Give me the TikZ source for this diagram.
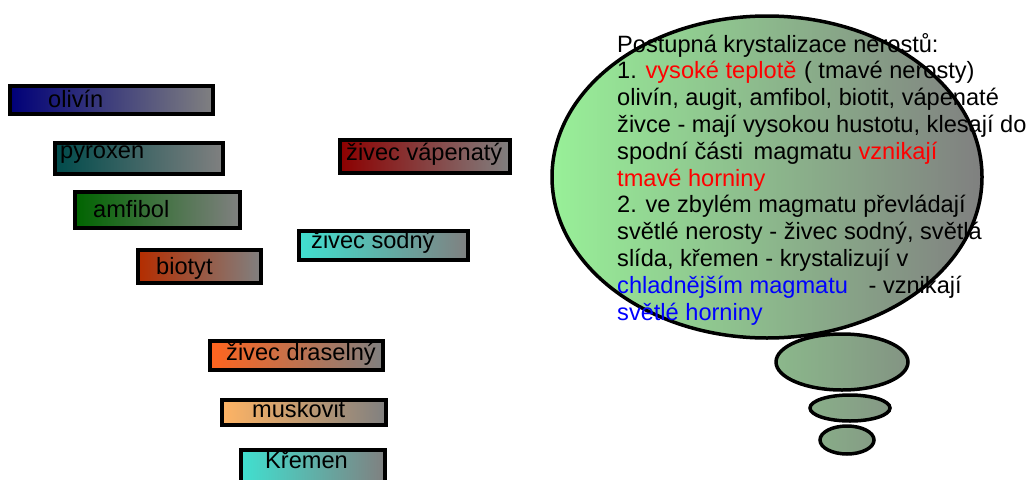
\documentclass[tikz,border=0pt]{standalone}
\usepackage{fontspec}
\setmainfont{Liberation Sans}
\begin{document}
\begin{tikzpicture}[x=1pt,y=-1pt,
  mbox/.style={draw=black, line width=4pt, right color={rgb,255:red,128;green,128;blue,128}},
  mtext/.style={anchor=base west, inner sep=0pt, font=\fontsize{23.6}{27}\selectfont},
  bub/.style={draw=black, line width=3.5pt}]
\useasboundingbox (0,0) rectangle (1032,479);
\definecolor{cnavy}{RGB}{0,0,120}
\definecolor{cteal}{RGB}{0,75,75}
\definecolor{cgreen}{RGB}{0,100,0}
\definecolor{crust}{RGB}{180,45,0}
\definecolor{corange}{RGB}{255,100,30}
\definecolor{clorange}{RGB}{255,180,100}
\definecolor{cturq}{RGB}{64,224,208}
\definecolor{cdred}{RGB}{140,0,0}
\definecolor{cgrey}{RGB}{128,128,128}
\definecolor{cbubl}{RGB}{152,240,152}
\definecolor{blueT}{RGB}{0,0,255}
\definecolor{redT}{RGB}{255,0,0}

% mineral boxes
\path[mbox, left color=cnavy] (10,86) rectangle (213,114);
\node[mtext] (olivin) at (48,107) {olivín};
\path[mbox, left color=cteal] (55,143) rectangle (223,174);
\node[mtext] (pyroxen) at (60,158) {pyroxen};
\path[mbox, left color=cgreen] (75,192) rectangle (240,228);
\node[mtext] (amfibol) at (93,217) {amfibol};
\path[mbox, left color=crust] (138,250) rectangle (261,283);
\node[mtext] (biotyt) at (156,274) {biotyt};
\path[mbox, left color=cdred] (340,140) rectangle (510,173);
\node[mtext] (vapenaty) at (346,160) {živec vápenatý};
\path[mbox, left color=cturq] (299,231) rectangle (468,260);
\node[mtext] (sodny) at (311,248) {živec sodný};
\path[mbox, left color=corange] (210,341) rectangle (383,370);
\node[mtext] (draselny) at (226,360) {živec draselný};
\path[mbox, left color=clorange] (222,400) rectangle (386,425);
\node[mtext] (muskovit) at (252,417) {muskovit};
\path[mbox, left color=cturq] (241,450) rectangle (385,485);
\node[mtext] (kremen) at (265,468) {Křemen};

% thought bubble
\path[bub, left color={rgb,255:red,139;green,184;blue,139}, right color={rgb,255:red,131;green,148;blue,131}] (842,362) ellipse [x radius=66, y radius=28];
\path[bub, left color={rgb,255:red,137;green,175;blue,137}, right color={rgb,255:red,133;green,152;blue,133}] (850,408) ellipse [x radius=40, y radius=13];
\path[bub, left color={rgb,255:red,136;green,172;blue,136}, right color={rgb,255:red,133;green,156;blue,133}] (847,440) ellipse [x radius=27, y radius=14];
\path[bub, left color=cbubl, right color=cgrey] (767,177) ellipse [x radius=215, y radius=161];

\node[mtext, align=left, font=\fontsize{23.6}{26.8}\selectfont] (bubtext) at (617,320) {%
Postupná krystalizace nerostů:\\
1. \textcolor{redT}{vysoké teplotě}\hspace{1pt} ( tmavé nerosty)\\
olivín, augit, amfibol, biotit, vápenaté\\
živce - mají vysokou hustotu, klesají do\\
spodní části\hspace{4pt} magmatu \textcolor{redT}{vznikají}\\
\textcolor{redT}{tmavé horniny}\\
2. ve zbylém magmatu převládají\\
světlé nerosty - živec sodný, světlá\\
slída, křemen - krystalizují v\\
\textcolor{blueT}{chladnějším magmatu}\hspace{14pt} - vznikají\\
\textcolor{blueT}{světlé horniny}};
\end{tikzpicture}
\end{document}
